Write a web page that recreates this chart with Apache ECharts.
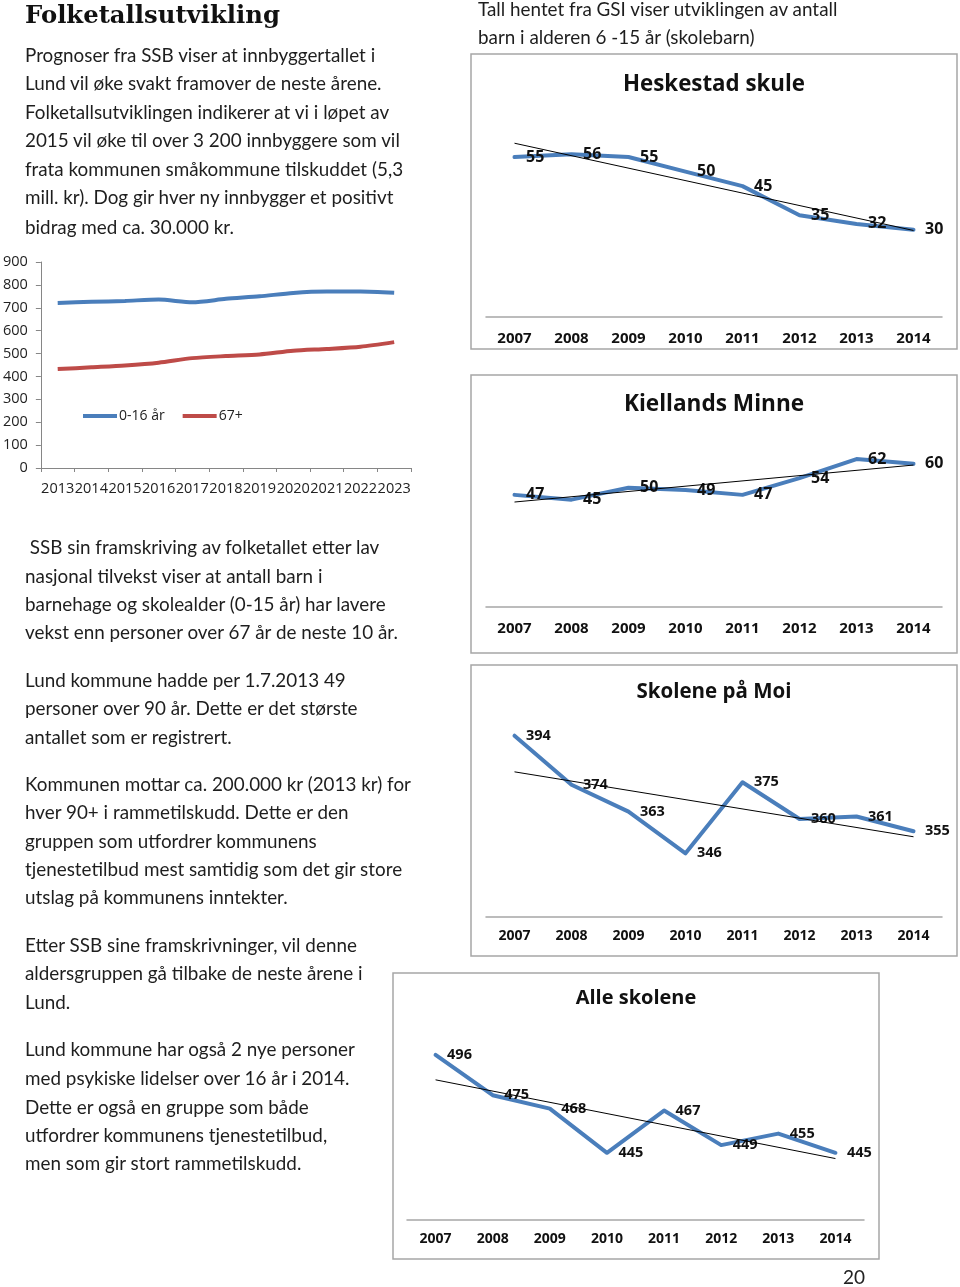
<!DOCTYPE html>
<html>
<head>
<meta charset="utf-8">
<script src="https://cdn.jsdelivr.net/npm/echarts@6/dist/echarts.min.js"></script>
<style>
  html, body { margin: 0; padding: 0; background: #fff; }
  #page { position: relative; width: 960px; height: 1287px; overflow: hidden; }
  #chart { position: absolute; left: 0; top: 0; width: 960px; height: 1287px; }
  .t { position: absolute; white-space: pre; font-family: Lato, "Open Sans", sans-serif; font-size: 18.85px; line-height: 20px; color: #1e1e1e; }
  .h { position: absolute; white-space: pre; font-family: "DejaVu Serif", serif; font-weight: bold; font-size: 24.3px; line-height: 28px; color: #111; }
  .pg { position: absolute; font-family: Lato, sans-serif; font-size: 19px; line-height: 20px; color: #222; }
</style>
</head>
<body>
<div id="page">
  <div id="chart"></div>
  <div class="h" style="left:25px; top:1px;">Folketallsutvikling</div>
  <div class="t" style="left:25px; top:45px;">Prognoser fra SSB viser at innbyggertallet i</div>
  <div class="t" style="left:25px; top:73px;">Lund vil øke svakt framover de neste årene.</div>
  <div class="t" style="left:25px; top:102px;">Folketallsutviklingen indikerer at vi i løpet av</div>
  <div class="t" style="left:25px; top:130px;">2015 vil øke til over 3 200 innbyggere som vil</div>
  <div class="t" style="left:25px; top:159px;">frata kommunen småkommune tilskuddet (5,3</div>
  <div class="t" style="left:25px; top:187px;">mill. kr). Dog gir hver ny innbygger et positivt</div>
  <div class="t" style="left:25px; top:217px;">bidrag med ca. 30.000 kr.</div>

  <div class="t" style="left:478px; top:-1px;">Tall hentet fra GSI viser utviklingen av antall</div>
  <div class="t" style="left:478px; top:27px;">barn i alderen 6 -15 år (skolebarn)</div>

  <div class="t" style="left:25px; top:537px;"> SSB sin framskriving av folketallet etter lav</div>
  <div class="t" style="left:25px; top:566px;">nasjonal tilvekst viser at antall barn i</div>
  <div class="t" style="left:25px; top:594px;">barnehage og skolealder (0-15 år) har lavere</div>
  <div class="t" style="left:25px; top:622px;">vekst enn personer over 67 år de neste 10 år.</div>

  <div class="t" style="left:25px; top:670px;">Lund kommune hadde per 1.7.2013 49</div>
  <div class="t" style="left:25px; top:698px;">personer over 90 år. Dette er det største</div>
  <div class="t" style="left:25px; top:727px;">antallet som er registrert.</div>

  <div class="t" style="left:25px; top:774px;">Kommunen mottar ca. 200.000 kr (2013 kr) for</div>
  <div class="t" style="left:25px; top:802px;">hver 90+ i rammetilskudd. Dette er den</div>
  <div class="t" style="left:25px; top:831px;">gruppen som utfordrer kommunens</div>
  <div class="t" style="left:25px; top:859px;">tjenestetilbud mest samtidig som det gir store</div>
  <div class="t" style="left:25px; top:887px;">utslag på kommunens inntekter.</div>

  <div class="t" style="left:25px; top:935px;">Etter SSB sine framskrivninger, vil denne</div>
  <div class="t" style="left:25px; top:963px;">aldersgruppen gå tilbake de neste årene i</div>
  <div class="t" style="left:25px; top:992px;">Lund.</div>

  <div class="t" style="left:25px; top:1039px;">Lund kommune har også 2 nye personer</div>
  <div class="t" style="left:25px; top:1068px;">med psykiske lidelser over 16 år i 2014.</div>
  <div class="t" style="left:25px; top:1097px;">Dette er også en gruppe som både</div>
  <div class="t" style="left:25px; top:1125px;">utfordrer kommunens tjenestetilbud,</div>
  <div class="t" style="left:25px; top:1153px;">men som gir stort rammetilskudd.</div>

  <div class="pg" style="left:843px; top:1267px;">20</div>
</div>
<script>
// ---- data ----
const popYears = ['2013','2014','2015','2016','2017','2018','2019','2020','2021','2022','2023'];
const kids0to16 = [721, 726, 730, 736, 724, 739, 750, 765, 771, 771, 766];
const elderly67 = [432, 440, 448, 460, 480, 489, 496, 512, 520, 530, 550];
const popSeriesNames = ['0-16 år', '67+'];

const schoolYears = ['2007','2008','2009','2010','2011','2012','2013','2014'];
const heskestad = [55, 56, 55, 50, 45, 35, 32, 30];
const kiellands = [47, 45, 50, 49, 47, 54, 62, 60];
const moi = [394, 374, 363, 346, 375, 360, 361, 355];
const alle = [496, 475, 468, 445, 467, 449, 455, 445];
const schoolTitles = ['Heskestad skule', 'Kiellands Minne', 'Skolene på Moi', 'Alle skolene'];

// least-squares linear trendline (as Excel's linear trendline) from the data
function trendEnds(vals) {
  const n = vals.length;
  let sx = 0, sy = 0, sxx = 0, sxy = 0;
  vals.forEach((v, i) => { sx += i; sy += v; sxx += i * i; sxy += i * v; });
  const b = (n * sxy - sx * sy) / (n * sxx - sx * sx);
  const a = (sy - b * sx) / n;
  return [a, a + b * (n - 1)];
}

const BLUE = '#4A7EBB', RED = '#BE4B48', FRAME = '#A6A6A6';
const chart = echarts.init(document.getElementById('chart'), null, { renderer: 'canvas' });

// layout of the school panels (pixels)
const panels = [
  { data: heskestad, grid: { left: 486, width: 456, top: 142.5, height: 174.5 }, min: 0, max: 60, frame: [471, 54, 486, 295], title: [714, 85], tsize: 22.3, lab: 15, dl: 16, margin: 14 },
  { data: kiellands, grid: { left: 486, width: 456, top: 440, height: 167 }, min: 0, max: 70, frame: [471, 375, 486, 278], title: [714, 405], tsize: 22.6, lab: 15, dl: 16, margin: 14 },
  { data: moi, grid: { left: 486, width: 456, top: 721, height: 196 }, min: 320, max: 400, frame: [471, 665, 486, 291], title: [714, 692], tsize: 20.5, lab: 14, dl: 14.5, margin: 12 },
  { data: alle, grid: { left: 407, width: 457, top: 1028, height: 192 }, min: 410, max: 510, frame: [393, 973, 486, 286], title: [636, 998], tsize: 20, lab: 14, dl: 14.5, margin: 12 }
];

const grids = [{ left: 40, width: 371, top: 262, height: 206 }];
const xAxes = [{
  type: 'category', gridIndex: 0, data: popYears, boundaryGap: true,
  axisLine: { lineStyle: { color: '#868686', width: 1 } },
  axisTick: { show: true, interval: 0, length: 4, lineStyle: { color: '#868686' } },
  axisLabel: { interval: 0, margin: 13, fontSize: 14.5, color: '#222', fontFamily: 'Open Sans' }
}];
const yAxes = [{
  type: 'value', gridIndex: 0, min: 0, max: 900, interval: 100,
  axisLine: { show: true, lineStyle: { color: '#868686', width: 1 } },
  axisTick: { show: true, length: 5, lineStyle: { color: '#868686' } },
  splitLine: { show: false },
  axisLabel: { margin: 13, fontSize: 14.5, color: '#222', fontFamily: 'Open Sans' }
}];
const series = [
  { name: popSeriesNames[0], type: 'line', xAxisIndex: 0, yAxisIndex: 0, data: kids0to16, smooth: 0.25, symbol: 'none',
    lineStyle: { color: BLUE, width: 4 }, itemStyle: { color: BLUE } },
  { name: popSeriesNames[1], type: 'line', xAxisIndex: 0, yAxisIndex: 0, data: elderly67, smooth: 0.25, symbol: 'none',
    lineStyle: { color: RED, width: 4 }, itemStyle: { color: RED } }
];
const graphics = [];

panels.forEach((p, k) => {
  const gi = k + 1;
  grids.push(p.grid);
  xAxes.push({
    type: 'category', gridIndex: gi, data: schoolYears, boundaryGap: true,
    axisLine: { lineStyle: { color: FRAME, width: 1.5 } },
    axisTick: { show: false },
    axisLabel: { interval: 0, margin: p.margin, fontSize: p.lab, fontWeight: 'bold', color: '#111', fontFamily: 'Open Sans' }
  });
  yAxes.push({ type: 'value', gridIndex: gi, min: p.min, max: p.max, show: false, splitLine: { show: false } });
  const te = trendEnds(p.data);
  series.push({
    type: 'line', xAxisIndex: gi, yAxisIndex: gi, data: p.data, symbol: 'circle', symbolSize: 1,
    lineStyle: { color: BLUE, width: 4, join: 'round', cap: 'round' }, itemStyle: { color: BLUE },
    label: { show: true, position: 'right', distance: 11, fontSize: p.dl, fontWeight: 'bold', color: '#111', fontFamily: 'Open Sans' },
    z: 2
  });
  series.push({
    type: 'line', xAxisIndex: gi, yAxisIndex: gi, data: [], symbol: 'none',
    markLine: {
      silent: true, symbol: ['none', 'none'], label: { show: false },
      lineStyle: { color: '#000', width: 1, type: 'solid' },
      data: [[{ coord: [0, te[0]] }, { coord: [p.data.length - 1, te[1]] }]]
    },
    z: 3
  });
  graphics.push({
    type: 'rect', shape: { x: p.frame[0], y: p.frame[1], width: p.frame[2], height: p.frame[3] },
    style: { fill: 'none', stroke: FRAME, lineWidth: 1.5 }, z: -1, silent: true
  });
  graphics.push({
    type: 'text', x: p.title[0], y: p.title[1], silent: true,
    style: { text: schoolTitles[k], textAlign: 'center', textVerticalAlign: 'middle',
      font: 'bold ' + p.tsize + 'px "Open Sans"', fill: '#111' }
  });
});

chart.setOption({
  animation: false,
  grid: grids,
  xAxis: xAxes,
  yAxis: yAxes,
  legend: {
    data: popSeriesNames, left: 78, top: 404, icon: 'rect', itemWidth: 34, itemHeight: 4, itemGap: 18,
    textStyle: { fontSize: 14, color: '#222', fontFamily: 'Open Sans', padding: [0, 0, 0, -3] }
  },
  graphic: graphics,
  series: series
});
</script>
</body>
</html>
